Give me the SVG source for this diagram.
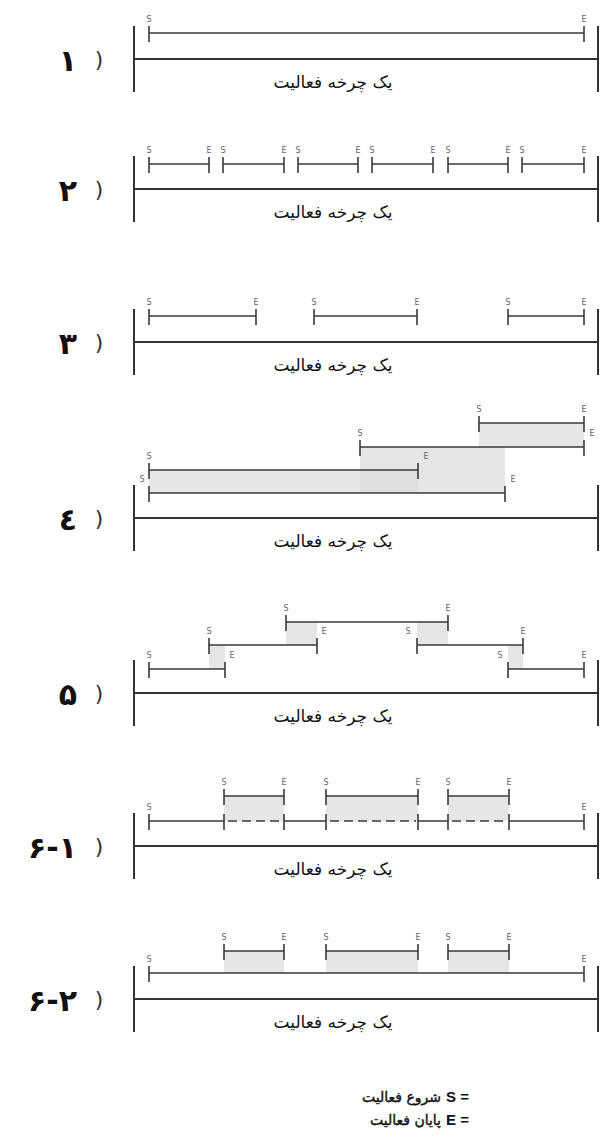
<svg xmlns="http://www.w3.org/2000/svg" width="601" height="1140" viewBox="0 0 601 1140">
<style>
.bg{fill:#ffffff}
.ln{stroke:#3a3a3a;stroke-width:1.6;fill:none}
.ax{stroke:#333;stroke-width:2;fill:none}
.ds{stroke:#3a3a3a;stroke-width:1.6;fill:none;stroke-dasharray:9 5}
.sh{fill:#dcdcdc;opacity:0.7}
.lb{font-family:"DejaVu Sans","Liberation Sans",sans-serif;font-size:8px;fill:#666;text-anchor:middle}
.cap{font-family:"DejaVu Sans","Noto Sans",sans-serif;font-size:17px;fill:#111;text-anchor:middle;direction:rtl}
.num{font-family:"DejaVu Sans",sans-serif;font-weight:bold;font-size:30px;fill:#111;text-anchor:end}
.par{font-family:"DejaVu Sans",sans-serif;font-size:22px;fill:#333;text-anchor:middle}
.legf{font-family:"DejaVu Sans",sans-serif;font-size:14px;fill:#111;stroke:#111;stroke-width:0.4;text-anchor:end}
.leg{font-family:"Liberation Sans",Arial,sans-serif;font-size:15px;font-weight:bold;fill:#111}
</style>
<rect class="bg" x="0" y="0" width="601" height="1140"/>

<g id="panel1">
<text class="num" x="77" y="71">۱</text><text class="par" x="99" y="67">)</text>
<path class="ax" d="M134 26V92M598 26V92M134 59H598"/>
<path class="ln" d="M149 33H584M149 26V42M584 26V42"/>
<text class="lb" x="149" y="22">S</text><text class="lb" x="584" y="22">E</text>
<text class="cap" x="333" y="88">یک چرخه فعالیت</text>
</g>

<g id="panel2">
<text class="num" x="77" y="201">۲</text><text class="par" x="99" y="197">)</text>
<path class="ax" d="M134 156V222M598 156V222M134 189H598"/>
<path class="ln" d="M149 164H209M149 157V173M209 157V173M223 164H284M223 157V173M284 157V173M298 164H358M298 157V173M358 157V173M372 164H433M372 157V173M433 157V173M448 164H508M448 157V173M508 157V173M522 164H584M522 157V173M584 157V173"/>
<text class="lb" x="149" y="153">S</text><text class="lb" x="209" y="153">E</text>
<text class="lb" x="223" y="153">S</text><text class="lb" x="284" y="153">E</text>
<text class="lb" x="298" y="153">S</text><text class="lb" x="358" y="153">E</text>
<text class="lb" x="372" y="153">S</text><text class="lb" x="433" y="153">E</text>
<text class="lb" x="448" y="153">S</text><text class="lb" x="508" y="153">E</text>
<text class="lb" x="522" y="153">S</text><text class="lb" x="584" y="153">E</text>
<text class="cap" x="333" y="218">یک چرخه فعالیت</text>
</g>

<g id="panel3">
<text class="num" x="77" y="354">۳</text><text class="par" x="99" y="350">)</text>
<path class="ax" d="M134 309V375M598 309V375M134 342H598"/>
<path class="ln" d="M149 316H256M149 309V325M256 309V325M314 316H417M314 309V325M417 309V325M508 316H584M508 309V325M584 309V325"/>
<text class="lb" x="149" y="305">S</text><text class="lb" x="256" y="305">E</text>
<text class="lb" x="314" y="305">S</text><text class="lb" x="417" y="305">E</text>
<text class="lb" x="508" y="305">S</text><text class="lb" x="584" y="305">E</text>
<text class="cap" x="333" y="371">یک چرخه فعالیت</text>
</g>

<g id="panel4">
<rect class="sh" x="479" y="423" width="105" height="24"/>
<rect class="sh" x="360" y="447" width="145" height="46"/>
<rect class="sh" x="149" y="470" width="269" height="23"/>
<text class="num" x="77" y="530">٤</text><text class="par" x="99" y="526">)</text>
<path class="ax" d="M134 485V551M598 485V551M134 518H598"/>
<path class="ln" d="M479 423H584M479 416V432M584 416V432M360 447H584M360 440V456M584 440V456M149 470H418M149 463V479M418 463V479M149 493H505M149 486V502M505 486V502"/>
<text class="lb" x="479" y="412">S</text><text class="lb" x="584" y="412">E</text>
<text class="lb" x="360" y="436">S</text><text class="lb" x="592" y="436">E</text>
<text class="lb" x="149" y="459">S</text><text class="lb" x="426" y="459">E</text>
<text class="lb" x="142" y="482">S</text><text class="lb" x="513" y="482">E</text>
<text class="cap" x="333" y="547">یک چرخه فعالیت</text>
</g>

<g id="panel5">
<rect class="sh" x="286" y="622" width="31" height="23"/>
<rect class="sh" x="417" y="622" width="31" height="23"/>
<rect class="sh" x="209" y="645" width="16" height="24"/>
<rect class="sh" x="508" y="645" width="15" height="24"/>
<text class="num" x="77" y="705">۵</text><text class="par" x="99" y="701">)</text>
<path class="ax" d="M134 660V726M598 660V726M134 693H598"/>
<path class="ln" d="M286 622H448M286 615V631M448 615V631M209 645H317M209 638V654M317 638V654M417 645H523M417 638V654M523 638V654M149 669H225M149 662V678M225 662V678M508 669H584M508 662V678M584 662V678"/>
<text class="lb" x="286" y="611">S</text><text class="lb" x="448" y="611">E</text>
<text class="lb" x="209" y="634">S</text><text class="lb" x="324" y="634">E</text>
<text class="lb" x="408" y="634">S</text><text class="lb" x="523" y="634">E</text>
<text class="lb" x="149" y="658">S</text><text class="lb" x="232" y="658">E</text>
<text class="lb" x="500" y="658">S</text><text class="lb" x="584" y="658">E</text>
<text class="cap" x="333" y="722">یک چرخه فعالیت</text>
</g>

<g id="panel6-1">
<rect class="sh" x="224" y="796" width="60" height="25"/>
<rect class="sh" x="326" y="796" width="92" height="25"/>
<rect class="sh" x="448" y="796" width="61" height="25"/>
<text class="num" x="77" y="858">۶-۱</text><text class="par" x="99" y="854">)</text>
<path class="ax" d="M134 813V879M598 813V879M134 846H598"/>
<path class="ln" d="M224 796H284M224 789V805M284 789V805M326 796H418M326 789V805M418 789V805M448 796H509M448 789V805M509 789V805"/>
<path class="ln" d="M149 821H224M284 821H326M418 821H448M509 821H584M149 814V830M224 814V830M284 814V830M326 814V830M418 814V830M448 814V830M509 814V830M584 814V830"/>
<path class="ds" d="M228 821H282M330 821H416M452 821H507"/>
<text class="lb" x="224" y="785">S</text><text class="lb" x="284" y="785">E</text>
<text class="lb" x="326" y="785">S</text><text class="lb" x="418" y="785">E</text>
<text class="lb" x="448" y="785">S</text><text class="lb" x="509" y="785">E</text>
<text class="lb" x="149" y="810">S</text><text class="lb" x="584" y="810">E</text>
<text class="cap" x="333" y="875">یک چرخه فعالیت</text>
</g>

<g id="panel6-2">
<rect class="sh" x="224" y="951" width="60" height="22"/>
<rect class="sh" x="326" y="951" width="92" height="22"/>
<rect class="sh" x="448" y="951" width="61" height="22"/>
<text class="num" x="77" y="1011">۶-۲</text><text class="par" x="99" y="1007">)</text>
<path class="ax" d="M134 966V1032M598 966V1032M134 999H598"/>
<path class="ln" d="M224 951H284M224 944V960M284 944V960M326 951H418M326 944V960M418 944V960M448 951H509M448 944V960M509 944V960M149 973H584M149 966V982M584 966V982"/>
<text class="lb" x="224" y="940">S</text><text class="lb" x="284" y="940">E</text>
<text class="lb" x="326" y="940">S</text><text class="lb" x="418" y="940">E</text>
<text class="lb" x="448" y="940">S</text><text class="lb" x="509" y="940">E</text>
<text class="lb" x="149" y="962">S</text><text class="lb" x="584" y="962">E</text>
<text class="cap" x="333" y="1028">یک چرخه فعالیت</text>
</g>

<g id="legend">
<text class="legf" x="441" y="1102">شروع فعالیت</text>
<text class="leg" x="446" y="1102">S =</text>
<text class="legf" x="441" y="1125">پایان فعالیت</text>
<text class="leg" x="446" y="1125">E =</text>
</g>
</svg>
